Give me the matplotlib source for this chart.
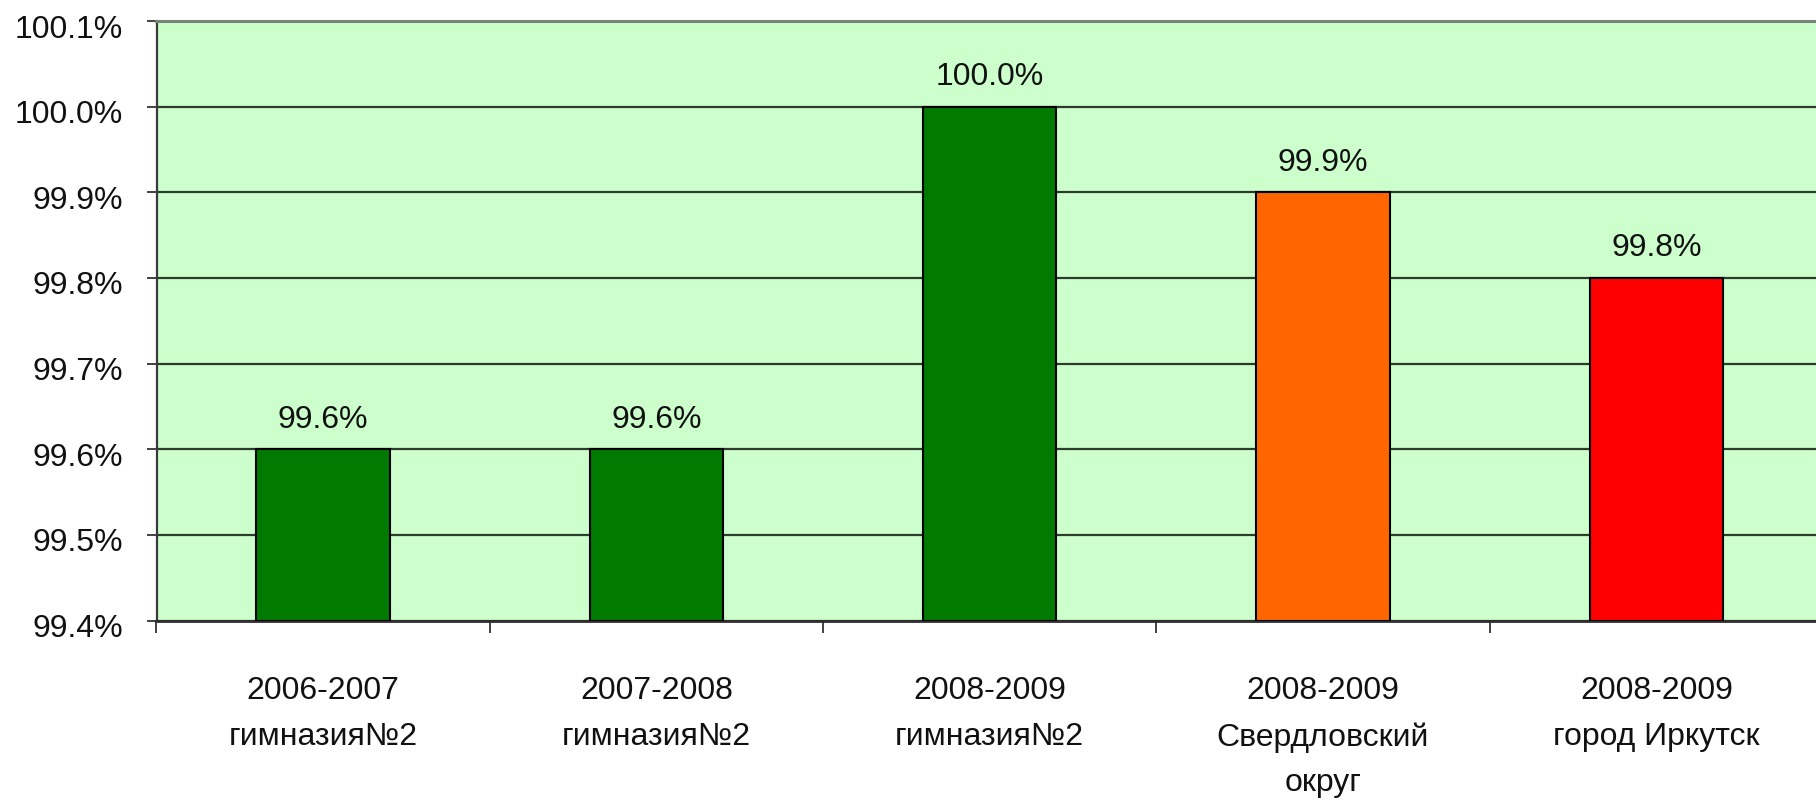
import matplotlib
matplotlib.use("Agg")
import matplotlib.pyplot as plt
from matplotlib.ticker import FixedLocator, FuncFormatter
from matplotlib.transforms import ScaledTranslation

plt.rcParams['font.family'] = ['Liberation Sans', 'DejaVu Sans']

categories = [
    "2006-2007\nгимназия№2",
    "2007-2008\nгимназия№2",
    "2008-2009\nгимназия№2",
    "2008-2009\nСвердловский\nокруг",
    "2008-2009\nгород Иркутск",
]
values = [99.6, 99.6, 100.0, 99.9, 99.8]
bar_colors = ["#007A00", "#007A00", "#007A00", "#FF6600", "#FF0000"]
y_ticks = [99.4, 99.5, 99.6, 99.7, 99.8, 99.9, 100.0, 100.1]

W, H = 1816, 801
fig = plt.figure(figsize=(W / 100, H / 100), dpi=100)

left_px, right_px, top_px, bottom_px = 156.5, 1823.0, 21.0, 620.5
ax = fig.add_axes([left_px / W, 1 - bottom_px / H,
                   (right_px - left_px) / W, (bottom_px - top_px) / H])
ax.set_facecolor("#CCFFCC")

x = list(range(len(categories)))
bars = ax.bar(x, [v - y_ticks[0] for v in values], bottom=y_ticks[0], width=0.4,
              color=bar_colors, edgecolor="#000000", linewidth=1.5, zorder=3)

ax.set_xlim(-0.5, len(categories) - 0.5)
ax.set_ylim(y_ticks[0], y_ticks[-1])

# horizontal gridlines at every y tick
ax.yaxis.set_major_locator(FixedLocator(y_ticks))
ax.yaxis.set_major_formatter(FuncFormatter(lambda v, p: f"{v:.1f}%"))
ax.grid(axis="y", color="#2E3A2E", linewidth=1.6, zorder=1)
ax.set_axisbelow(True)

# category labels at bar centres, tick marks at category boundaries
ax.set_xticks(x)
ax.set_xticklabels(categories, linespacing=1.68)
ax.set_xticks([i - 0.5 for i in range(len(categories) + 1)], minor=True)
ax.tick_params(axis="x", which="major", length=0, pad=40, labelsize=23,
               labelcolor="#111111")
ax.tick_params(axis="x", which="minor", length=8.5, width=1.3, color="#333333",
               direction="out")
ax.tick_params(axis="y", length=7.2, width=1.3, color="#333333", pad=17,
               labelsize=23, labelcolor="#111111")

# percentage labels sit a little below their gridlines
shift = ScaledTranslation(0, -3.6 / 72, fig.dpi_scale_trans)
for lbl in ax.get_yticklabels():
    lbl.set_transform(lbl.get_transform() + shift)

ax.spines["right"].set_visible(False)
ax.spines["top"].set_color("#7A857A")
ax.spines["top"].set_linewidth(2.2)
ax.spines["left"].set_color("#3A3A3A")
ax.spines["left"].set_linewidth(1.6)
ax.spines["bottom"].set_color("#2E2E2E")
ax.spines["bottom"].set_linewidth(2.0)

for rect, v in zip(bars, values):
    ax.annotate(f"{v:.1f}%", xy=(rect.get_x() + rect.get_width() / 2, v),
                xytext=(0, 15.5), textcoords="offset points",
                ha="center", va="baseline", fontsize=23, color="#111111",
                zorder=4)

fig.savefig("out.png", dpi=100, facecolor="white")
